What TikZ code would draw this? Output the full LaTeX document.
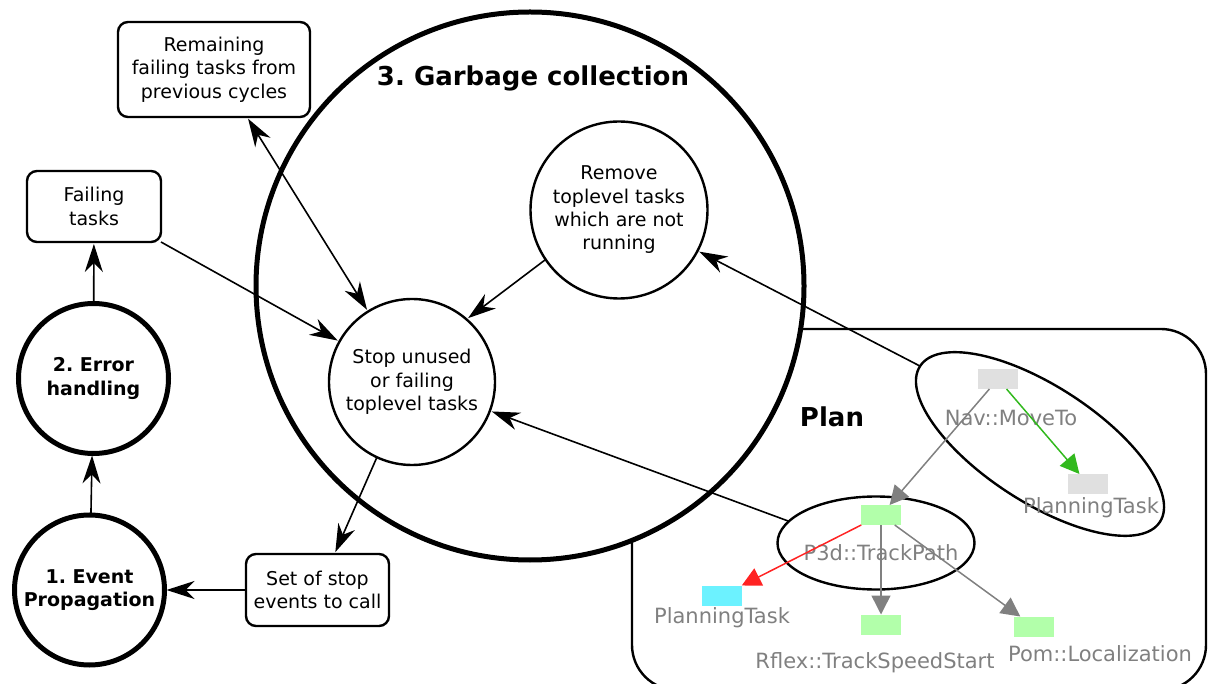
\documentclass[tikz,border=0pt]{standalone}
\usepackage{fontspec}
\setmainfont{DejaVu Sans}
\frenchspacing
\usetikzlibrary{arrows.meta,shapes.geometric}
\definecolor{gtext}{RGB}{128,128,128}
\definecolor{garrow}{RGB}{128,128,128}
\definecolor{greenarrow}{RGB}{50,185,30}
\definecolor{redarrow}{RGB}{255,35,35}
\definecolor{palegreen}{RGB}{178,255,170}
\definecolor{cyantask}{RGB}{108,242,255}
\definecolor{graytask}{RGB}{224,224,224}
\begin{document}
\begin{tikzpicture}[x=1pt,y=-1pt,
  every node/.style={inner sep=0pt, outer sep=0pt},
  lbl/.style={font=\fontsize{19}{23.3}\selectfont, align=center},
  boldlbl/.style={font=\fontsize{19}{23.3}\selectfont\bfseries, align=center},
  thickcirc/.style={circle, draw, line width=5pt, fill=white},
  thincirc/.style={circle, draw, line width=2.4pt, fill=white},
  box/.style={draw, rounded corners=10pt, line width=2.4pt, fill=white},
  arr/.style={line width=1.6pt, shorten >=2pt, -{Stealth[length=28pt,width=18pt,inset=9pt]}},
  arrboth/.style={line width=1.6pt, shorten >=2pt, shorten <=2pt, {Stealth[length=28pt,width=18pt,inset=9pt]}-{Stealth[length=28pt,width=18pt,inset=9pt]}},
  task/.style={minimum width=40pt, minimum height=20pt},
  glabel/.style={text=gtext, font=\fontsize{21}{24}\selectfont},
  parr/.style={line width=1.5pt},
  ell/.style={ellipse, draw, line width=2.4pt},
]
\useasboundingbox (0,0) rectangle (1208,684);
\clip (0,0) rectangle (1208,684);

% Plan box (behind the big circle)
\draw[line width=2.4pt, rounded corners=45pt] (632,329) rectangle (1206,690);

% Big circle
\node[thickcirc, minimum size=548pt] (gc) at (530,286) {};
\node[font=\fontsize{26}{30}\selectfont\bfseries] (gctitle) at (533,78) {3. Garbage collection};

% Inner circles
\node[thincirc, lbl, minimum size=177pt] (remove) at (619,210) {Remove\\toplevel tasks\\which are not\\running};
\node[thincirc, lbl, minimum size=166pt] (stop) at (412,382) {Stop unused\\or failing\\toplevel tasks};

% Left circles
\node[thickcirc, boldlbl, minimum size=150pt] (error) at (93.5,378.5) {2. Error\\handling};
\node[thickcirc, boldlbl, minimum size=150pt] (event) at (89.5,590) {1. Event\\Propagation};

% Boxes
\node[box, lbl, minimum width=192pt, minimum height=95pt] (remaining) at (214,69.5) {Remaining\\failing tasks from\\previous cycles};
\node[box, lbl, minimum width=134pt, minimum height=71pt] (failing) at (94,206.5) {Failing\\tasks};
\node[box, lbl, minimum width=143pt, minimum height=72pt] (setstop) at (317.5,590) {Set of stop\\events to call};

% Plan
\node[font=\fontsize{26}{30}\selectfont\bfseries] (plan) at (832,417) {Plan};
\node[ell, rotate=-33, minimum width=286pt, minimum height=116pt] (nav) at (1040,444) {};
\node[ell, minimum width=197pt, minimum height=93pt] (p3d) at (876,543) {};

\node[task, fill=graytask] (navrect) at (998,379) {};
\node[glabel] (navlbl) at (1011,418) {Nav::MoveTo};
\node[task, fill=graytask] (pt1rect) at (1088,484) {};
\node[glabel] (pt1lbl) at (1091,508) {PlanningTask};
\node[task, fill=palegreen] (p3drect) at (881,515) {};
\node[glabel] (p3dlbl) at (881,553) {P3d::TrackPath};
\node[task, fill=cyantask] (cyanrect) at (722,595.5) {};
\node[glabel] (pt2lbl) at (722,618) {PlanningTask};
\node[task, fill=palegreen] (rflexrect) at (881,624.5) {};
\node[glabel] (rflexlbl) at (875,663) {Rflex::TrackSpeedStart};
\node[task, fill=palegreen] (pomrect) at (1034,626.5) {};
\node[glabel] (pomlbl) at (1100,654) {Pom::Localization};

\draw[parr, draw=garrow, -{Triangle[length=19pt,width=19pt,fill=garrow]}] (navrect) -- (p3drect);
\draw[parr, draw=greenarrow, -{Triangle[length=19pt,width=19pt,fill=greenarrow]}] (navrect) -- (pt1rect);
\draw[parr, draw=redarrow, -{Triangle[length=19pt,width=19pt,fill=redarrow]}] (p3drect) -- (cyanrect);
\draw[parr, draw=garrow, -{Triangle[length=19pt,width=19pt,fill=garrow]}] (p3drect) -- (rflexrect);
\draw[parr, draw=garrow, -{Triangle[length=19pt,width=19pt,fill=garrow]}] (p3drect) -- (pomrect);

% Connectors
\draw[arr] (event) -- (error);
\draw[arr] (error) -- (failing);
\draw[arr] (failing.south east) -- (stop);
\draw[arrboth] ([xshift=33pt]remaining.south) -- (stop);
\draw[arr] (remove.214) -- (stop.49);
\draw[arr] (stop.245) -- ([xshift=17pt]setstop.north);
\draw[arr] (setstop) -- (event);
\draw[arr] (nav.west) -- (remove);
\draw[arr] (p3d.166) -- (stop);
\end{tikzpicture}
\end{document}
